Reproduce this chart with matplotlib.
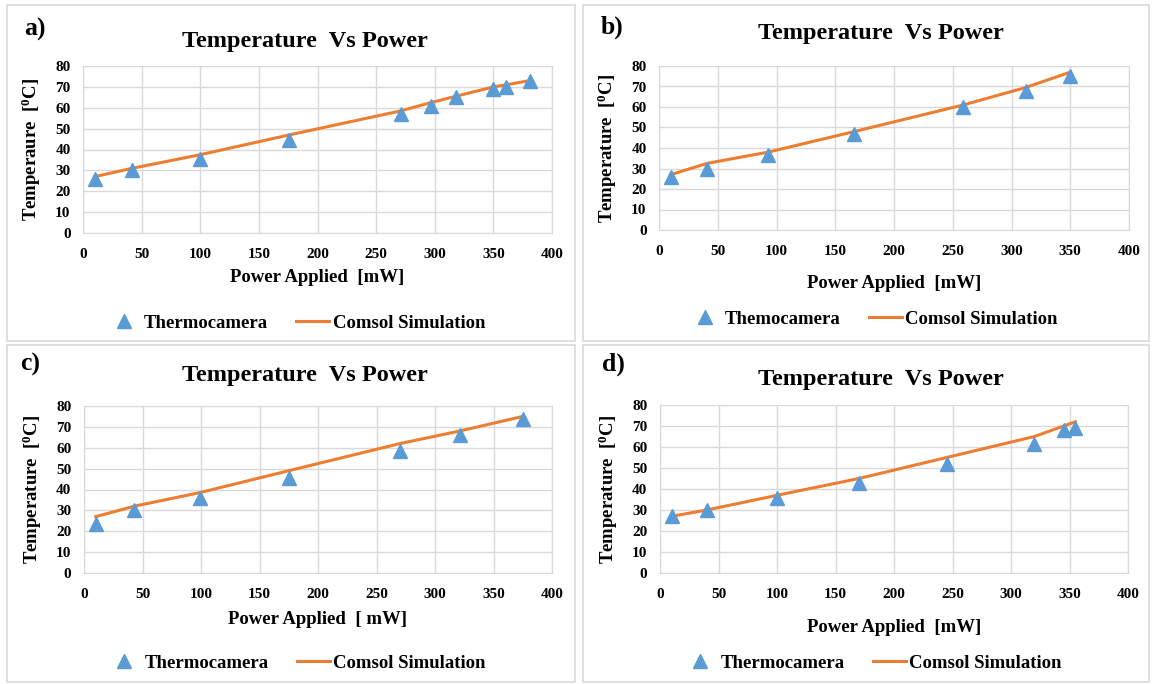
import matplotlib.pyplot as plt
from matplotlib.patches import Rectangle

plt.rcParams['font.family'] = ['Liberation Serif', 'DejaVu Serif']
plt.rcParams['font.weight'] = 'bold'
plt.rcParams['mathtext.fontset'] = 'custom'
plt.rcParams['mathtext.rm'] = 'Liberation Serif:bold'
plt.rcParams['mathtext.it'] = 'Liberation Serif:bold'
plt.rcParams['mathtext.bf'] = 'Liberation Serif:bold'

BLUE = '#5B9BD5'
ORANGE = '#ED7D31'
GRID = '#D9D9D9'

# panel a
power_a = [10, 42, 100, 176, 271, 297, 318, 350, 361, 381]
camera_a = [26, 30, 35.5, 44.5, 57, 61, 65, 69, 70, 73]
comsol_a = [27, 31, 37.5, 47, 58.5, 62.5, 65.5, 70, 71, 73]

# panel b
power_b = [10, 41, 93, 166, 259, 312, 350]
camera_b = [26, 30, 36.5, 47, 60, 68, 75]
comsol_b = [27, 32.5, 38, 48, 61, 69.5, 77]

# panel c
power_c = [10, 43, 99, 175, 270, 321, 375]
camera_c = [23.5, 30, 36, 45.5, 58.5, 66, 74]
comsol_c = [27, 32, 38.5, 49, 62, 68, 75]

# panel d
power_d = [10, 40, 100, 170, 245, 320, 345, 355]
camera_d = [27, 30, 35.5, 43, 52, 61.5, 68, 69]
comsol_d = [27, 30, 37, 45, 55, 65, 70, 72]

W, H = 1152, 684
fig = plt.figure(figsize=(W / 100, H / 100), dpi=100)
fig.patch.set_facecolor('white')

# panel borders (pixels: x0, y0, x1, y1)
borders = [(7, 5, 575, 341), (583, 5, 1149, 341), (7, 345, 575, 682), (583, 345, 1149, 682)]
for x0, y0, x1, y1 in borders:
    fig.patches.append(Rectangle((x0 / W, 1 - y1 / H), (x1 - x0) / W, (y1 - y0) / H,
                                 transform=fig.transFigure, fill=False,
                                 edgecolor=GRID, linewidth=1.2))

panels = [
    dict(tag='a)', px=power_a, cam=camera_a, sim=comsol_a,
         box=(83, 66, 552, 233), title_y=41, tag_xy=(35, 29),
         xlabel='Power Applied  [mW]', ylabel='Temperaure  [$^{0}$C]',
         xlab_y=277, leg_y=323, cam_name='Thermocamera'),
    dict(tag='b)', px=power_b, cam=camera_b, sim=comsol_b,
         box=(659, 66, 1129, 230), title_y=34, tag_xy=(612, 27),
         xlabel='Power Applied  [mW]', ylabel='Temperature  [$^{0}$C]',
         xlab_y=283, leg_y=319, cam_name='Themocamera'),
    dict(tag='c)', px=power_c, cam=camera_c, sim=comsol_c,
         box=(84, 406, 552, 573), title_y=375, tag_xy=(30, 364),
         xlabel='Power Applied  [ mW]', ylabel='Temperature  [$^{0}$C]',
         xlab_y=619, leg_y=663, cam_name='Thermocamera'),
    dict(tag='d)', px=power_d, cam=camera_d, sim=comsol_d,
         box=(660, 405, 1128, 573), title_y=380, tag_xy=(613, 364),
         xlabel='Power Applied  [mW]', ylabel='Temperature  [$^{0}$C]',
         xlab_y=627, leg_y=663, cam_name='Thermocamera'),
]

for p in panels:
    x0, y0, x1, y1 = p['box']
    ax = fig.add_axes([x0 / W, 1 - y1 / H, (x1 - x0) / W, (y1 - y0) / H])
    ax.plot(p['px'], p['sim'], color=ORANGE, linewidth=2.2, zorder=3,
            label='Comsol Simulation')
    ax.plot(p['px'], p['cam'], linestyle='none', marker='^', markersize=10,
            color=BLUE, zorder=4, label=p['cam_name'])
    ax.set_xlim(0, 400)
    ax.set_ylim(0, 80)
    ax.set_xticks(range(0, 401, 50))
    ax.set_yticks(range(0, 81, 10))
    ax.grid(True, color=GRID, linewidth=1)
    ax.set_axisbelow(True)
    for s in ax.spines.values():
        s.set_color(GRID)
    ax.tick_params(axis='x', length=0, labelsize=11, pad=10.5)
    ax.tick_params(axis='y', length=0, labelsize=11, pad=9)
    for lbl in ax.get_xticklabels() + ax.get_yticklabels():
        lbl.set_fontweight('bold')

    cx = (x0 + x1) / 2
    fig.text((cx - 13) / W, 1 - p['title_y'] / H, 'Temperature  Vs Power', ha='center',
             va='center', fontsize=17.5, fontweight='bold')
    fig.text(p['tag_xy'][0] / W, 1 - p['tag_xy'][1] / H, p['tag'], ha='center', va='center',
             fontsize=18.5, fontweight='bold')
    fig.text(cx / W, 1 - p['xlab_y'] / H, p['xlabel'], ha='center', va='center',
             fontsize=13.5, fontweight='bold')
    fig.text((x0 - 52) / W, 1 - (y0 + y1) / 2 / H, p['ylabel'], ha='center', va='center',
             rotation=90, fontsize=13.5, fontweight='bold')

    handles, labels = ax.get_legend_handles_labels()
    fig.legend(handles[::-1], labels[::-1], loc='center',
               bbox_to_anchor=((cx - 21) / W, 1 - p['leg_y'] / H), ncol=2, frameon=False,
               prop={'family': 'Liberation Serif', 'weight': 'bold', 'size': 13.5},
               handlelength=1.75, columnspacing=1.5, handletextpad=0.2)

fig.savefig('out.png', dpi=100)
